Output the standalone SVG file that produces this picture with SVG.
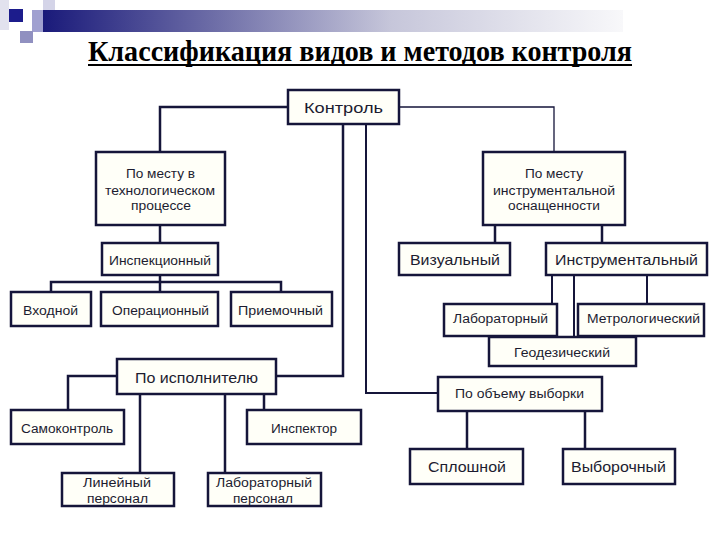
<svg xmlns="http://www.w3.org/2000/svg" width="720" height="540" viewBox="0 0 720 540">
<defs>
<linearGradient id="bar" x1="0" y1="0" x2="1" y2="0">
<stop offset="0" stop-color="#1a1a7a"/>
<stop offset="0.3" stop-color="#6f6fa8"/>
<stop offset="0.6" stop-color="#c6c6da"/>
<stop offset="1" stop-color="#f8f8fa"/>
</linearGradient>
<style>
.box{fill:#fffff8;stroke:#15153a;stroke-width:2.5}
.c{fill:none;stroke:#15153a;stroke-width:2.5}
.thin{stroke-width:1.3}
.mid{stroke-width:2}
.t{font-family:"Liberation Sans",Arial,sans-serif;fill:#1c1c30;text-anchor:middle}
.f12{font-size:12px}
.f13{font-size:12.5px}
.f14{font-size:14px}
.f15{font-size:15px}
.title{font-family:"Liberation Serif","Times New Roman",serif;font-weight:bold;font-size:30px;fill:#000;text-anchor:middle}
</style>
</defs>
<rect width="720" height="540" fill="#fff"/>
<g id="decoration">
<rect x="0" y="0" width="9" height="30" fill="#e2e2ee"/>
<rect x="43" y="0" width="12" height="10" fill="#d4d4e8"/>
<rect x="32" y="10" width="12" height="22" fill="#a0a0d0"/>
<rect x="43" y="10" width="580" height="22" fill="url(#bar)"/>
<rect x="9" y="9" width="14" height="13" fill="#1c1c8c"/>
<rect x="20" y="31" width="13" height="12" fill="#9090c0"/>
</g>
<g id="title">
<text class="title" x="360" y="61" textLength="544" lengthAdjust="spacingAndGlyphs">Классификация видов и методов контроля</text>
<rect x="88" y="64" width="544" height="2" fill="#000"/>
</g>
<g id="connectors">
<path class="c" d="M288,107 H160 V152"/>
<path class="c thin" d="M399,107 H554 V152"/>
<path class="c" d="M343,124 V376 H276"/>
<path class="c mid" d="M366,124 V393 H438"/>
<path class="c" d="M160,225 V243"/>
<path class="c" d="M160,275 V292 M51,292 V282 H281 V292"/>
<path class="c" d="M495,225 V243 M602,225 V243"/>
<path class="c mid" d="M552,275 V304 M574,275 V337 M647,275 V304"/>
<path class="c" d="M117,376 H68 V410 M140,394 V473 M225,394 V473 M264,394 V410"/>
<path class="c" d="M467,411 V449 M585,411 V449"/>
</g>
<g id="kontrol"><rect class="box" x="288" y="90" width="111" height="34"/><text class="t f15" x="343.5" y="113" textLength="79" lengthAdjust="spacingAndGlyphs">Контроль</text></g>
<g id="mesto-tech"><rect class="box" x="96" y="152" width="129" height="73"/>
<text class="t f13" x="160.5" y="177.5" textLength="69" lengthAdjust="spacingAndGlyphs">По месту в</text>
<text class="t f13" x="160" y="194.5" textLength="110" lengthAdjust="spacingAndGlyphs">технологическом</text>
<text class="t f13" x="161" y="209.5" textLength="60" lengthAdjust="spacingAndGlyphs">процессе</text></g>
<g id="mesto-instr"><rect class="box" x="483" y="152" width="142" height="73"/>
<text class="t f13" x="554" y="177.5" textLength="58" lengthAdjust="spacingAndGlyphs">По месту</text>
<text class="t f13" x="554" y="194.5" textLength="122" lengthAdjust="spacingAndGlyphs">инструментальной</text>
<text class="t f13" x="554" y="209.5" textLength="92" lengthAdjust="spacingAndGlyphs">оснащенности</text></g>
<g id="inspek"><rect class="box" x="102" y="243" width="116" height="32"/><text class="t f13" x="160" y="264.5" textLength="102" lengthAdjust="spacingAndGlyphs">Инспекционный</text></g>
<g id="vhod"><rect class="box" x="11" y="292" width="80" height="34"/><text class="t f13" x="50.5" y="314.5" textLength="55" lengthAdjust="spacingAndGlyphs">Входной</text></g>
<g id="oper"><rect class="box" x="101" y="292" width="117" height="34"/><text class="t f13" x="160.5" y="314.5" textLength="97" lengthAdjust="spacingAndGlyphs">Операционный</text></g>
<g id="priem"><rect class="box" x="231" y="292" width="101" height="34"/><text class="t f13" x="280.5" y="314.5" textLength="85" lengthAdjust="spacingAndGlyphs">Приемочный</text></g>
<g id="vizual"><rect class="box" x="399" y="243" width="111" height="32"/><text class="t f15" x="455" y="265" textLength="90" lengthAdjust="spacingAndGlyphs">Визуальный</text></g>
<g id="instr"><rect class="box" x="546" y="243" width="161" height="32"/><text class="t f15" x="626.5" y="265" textLength="143" lengthAdjust="spacingAndGlyphs">Инструментальный</text></g>
<g id="lab"><rect class="box" x="444" y="304" width="113" height="32"/><text class="t f12" x="500.5" y="322.5" textLength="95" lengthAdjust="spacingAndGlyphs">Лабораторный</text></g>
<g id="metro"><rect class="box" x="578" y="304" width="126" height="32"/><text class="t f12" x="643.5" y="322.5" textLength="113" lengthAdjust="spacingAndGlyphs">Метрологический</text></g>
<g id="geo"><rect class="box" x="489" y="337" width="147" height="29"/><text class="t f12" x="562" y="356.5" textLength="96" lengthAdjust="spacingAndGlyphs">Геодезический</text></g>
<g id="ispoln"><rect class="box" x="117" y="359" width="159" height="35"/><text class="t f14" x="196.5" y="383" textLength="123" lengthAdjust="spacingAndGlyphs">По исполнителю</text></g>
<g id="obem"><rect class="box" x="438" y="377" width="164" height="34"/><text class="t f13" x="519.5" y="397.5" textLength="129" lengthAdjust="spacingAndGlyphs">По объему выборки</text></g>
<g id="samo"><rect class="box" x="11" y="410" width="113" height="34"/><text class="t f13" x="67" y="432.5" textLength="92" lengthAdjust="spacingAndGlyphs">Самоконтроль</text></g>
<g id="inspektor"><rect class="box" x="247" y="410" width="114" height="34"/><text class="t f13" x="304" y="432.5" textLength="66" lengthAdjust="spacingAndGlyphs">Инспектор</text></g>
<g id="lin"><rect class="box" x="62" y="473" width="112" height="33"/>
<text class="t f13" x="117" y="486.5" textLength="68" lengthAdjust="spacingAndGlyphs">Линейный</text>
<text class="t f13" x="117.5" y="502.5" textLength="61" lengthAdjust="spacingAndGlyphs">персонал</text></g>
<g id="labpers"><rect class="box" x="208" y="473" width="113" height="33"/>
<text class="t f13" x="264" y="486.5" textLength="96" lengthAdjust="spacingAndGlyphs">Лабораторный</text>
<text class="t f13" x="263" y="502.5" textLength="60" lengthAdjust="spacingAndGlyphs">персонал</text></g>
<g id="splosh"><rect class="box" x="410" y="449" width="113" height="35"/><text class="t f15" x="467" y="472" textLength="78" lengthAdjust="spacingAndGlyphs">Сплошной</text></g>
<g id="vybor"><rect class="box" x="563" y="449" width="112" height="35"/><text class="t f15" x="618.5" y="472" textLength="95" lengthAdjust="spacingAndGlyphs">Выборочный</text></g>
</svg>
